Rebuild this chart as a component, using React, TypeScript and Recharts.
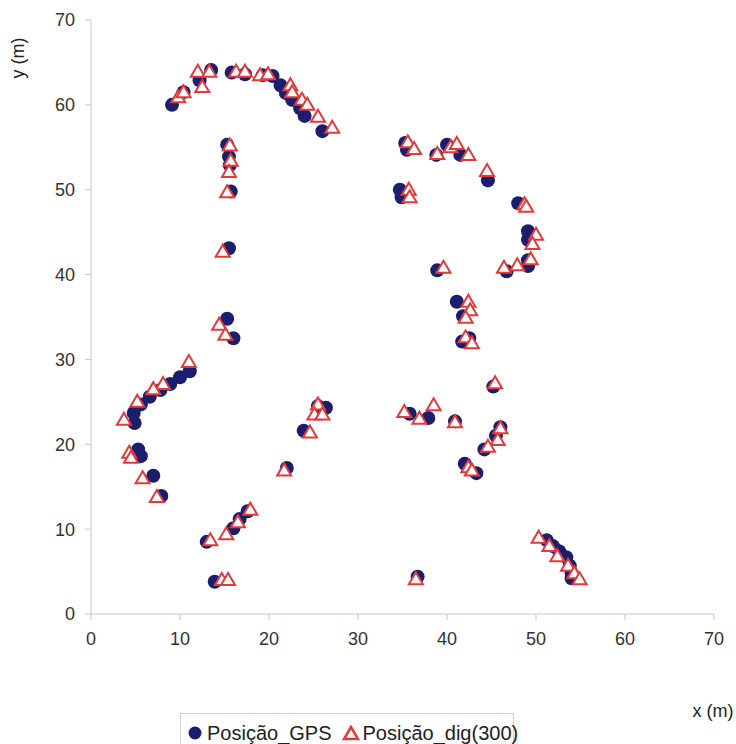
import { ScatterChart, Scatter, XAxis, YAxis, Label } from "recharts";

// GPS positions (x, y in metres)
const gpsPoints = [
  [9.1, 60.0], [10.4, 61.5], [12.2, 62.9], [13.5, 64.1], [15.8, 63.8], [17.3, 63.6],
  [19.3, 63.5], [20.4, 63.4], [21.3, 62.3], [21.9, 61.4], [22.6, 60.6], [23.5, 59.6],
  [24.0, 58.7], [26.0, 56.9],
  [15.3, 55.3], [15.5, 53.9], [15.6, 52.9], [15.7, 49.8], [15.5, 43.1], [15.3, 34.8], [16.0, 32.5],
  [11.1, 28.6], [10.0, 27.9], [8.9, 27.1], [7.8, 26.4], [6.6, 25.6], [5.6, 24.7],
  [4.8, 23.7], [4.9, 22.5], [5.3, 19.4], [5.6, 18.6], [7.0, 16.3], [7.9, 13.9],
  [13.0, 8.5], [16.0, 10.1], [16.7, 11.2], [17.6, 12.1], [13.9, 3.8], [36.7, 4.4],
  [25.5, 24.5], [26.4, 24.3], [23.9, 21.6], [22.0, 17.2],
  [35.3, 55.5], [35.5, 54.7], [38.8, 54.1], [40.0, 55.3], [41.5, 54.1], [44.6, 51.1],
  [34.7, 50.0], [34.9, 49.1], [48.0, 48.4], [49.1, 45.1], [49.1, 44.1], [49.1, 41.7],
  [49.1, 41.0], [38.9, 40.5], [46.7, 40.4],
  [41.1, 36.8], [41.8, 35.1], [41.7, 32.1], [42.5, 32.5], [45.2, 26.8], [35.8, 23.6],
  [37.9, 23.1], [40.9, 22.7], [46.0, 22.0], [45.5, 21.0], [44.2, 19.4], [42.0, 17.7], [43.3, 16.6],
  [51.2, 8.7], [51.9, 8.0], [52.6, 7.4], [53.4, 6.7], [53.8, 5.7], [54.0, 4.8], [54.0, 4.2],
];

// digitised positions (300)
const digPoints = [
  [9.8, 60.9], [10.4, 61.5], [12.0, 63.9], [12.5, 62.1], [13.3, 63.9], [16.3, 63.9],
  [17.3, 63.9], [19.0, 63.5], [19.9, 63.6], [22.4, 62.3], [22.6, 61.5], [23.7, 60.6],
  [24.3, 60.0], [25.5, 58.6], [27.1, 57.3],
  [15.6, 55.2], [15.7, 53.4], [15.5, 52.1], [15.3, 49.7], [14.8, 42.7], [14.4, 34.1], [15.1, 32.9],
  [11.0, 29.7], [8.1, 27.1], [7.0, 26.5], [5.2, 25.0], [3.7, 22.9], [4.3, 19.0],
  [4.5, 18.4], [5.8, 16.0], [7.4, 13.8],
  [13.4, 8.7], [15.2, 9.4], [16.5, 10.8], [17.9, 12.3], [14.7, 4.0], [15.4, 4.0], [36.5, 4.1],
  [25.5, 24.7], [25.1, 23.5], [26.0, 23.5], [24.6, 21.4], [21.7, 16.9],
  [35.6, 55.6], [36.3, 54.8], [38.9, 54.2], [40.4, 55.0], [41.1, 55.4], [42.4, 54.1],
  [44.5, 52.2], [35.7, 50.0], [35.8, 49.1], [48.7, 48.3], [48.9, 48.0], [50.0, 44.7],
  [49.6, 43.6], [49.4, 41.8], [47.9, 41.1], [46.4, 40.8], [39.6, 40.8],
  [42.4, 36.8], [42.6, 35.8], [42.1, 34.9], [42.1, 32.6], [42.8, 31.9], [45.4, 27.2],
  [35.2, 23.8], [36.9, 23.0], [38.5, 24.6], [40.9, 22.6], [46.0, 21.9], [45.7, 20.5],
  [44.6, 19.7], [42.4, 17.3], [42.8, 16.9],
  [50.3, 9.0], [51.5, 8.0], [52.4, 6.8], [53.6, 5.7], [54.3, 4.8], [54.9, 4.1],
];

const ticks = [0, 10, 20, 30, 40, 50, 60, 70];

const gpsData = gpsPoints.map(([x, y]) => ({ x, y }));
const digData = digPoints.map(([x, y]) => ({ x, y }));

const NAVY = "#1a1e6c";
const RED = "#e23a3a";
const AXIS = "#c4c4da";
const FONT = "'Liberation Sans', Arial, sans-serif";

const Dot = (p: any) => <circle cx={p.cx} cy={p.cy} r={7} fill={NAVY} />;

const Tri = (p: any) => (
  <polygon
    points={`${p.cx},${p.cy - 7} ${p.cx - 7},${p.cy + 5} ${p.cx + 7},${p.cy + 5}`}
    fill="#fff"
    stroke={RED}
    strokeWidth={2}
  />
);

export default function App() {
  return (
    <div style={{ position: "absolute", left: 0, top: 0, width: 736, height: 744, background: "#fff", fontFamily: FONT }}>
      <ScatterChart width={736} height={744} margin={{ top: 20, right: 22, bottom: 100, left: 0 }}>
        <XAxis
          type="number"
          dataKey="x"
          domain={[0, 70]}
          ticks={ticks}
          interval={0}
          height={30}
          stroke={AXIS}
          tickSize={6}
          tickMargin={12}
          tick={{ fill: "#333", fontSize: 18, fontFamily: FONT }}
        >
          <Label
            content={() => (
              <text x={713} y={717} textAnchor="middle" fontSize={18} fill="#222" fontFamily={FONT}>
                x (m)
              </text>
            )}
          />
        </XAxis>
        <YAxis
          type="number"
          dataKey="y"
          domain={[0, 70]}
          ticks={ticks}
          interval={0}
          width={91}
          stroke={AXIS}
          tickSize={6}
          tickMargin={10}
          tick={{ fill: "#333", fontSize: 18, fontFamily: FONT }}
        >
          <Label
            content={() => (
              <text
                x={24}
                y={58}
                transform="rotate(-90 24 58)"
                textAnchor="middle"
                fontSize={18}
                fill="#222"
                fontFamily={FONT}
              >
                y (m)
              </text>
            )}
          />
        </YAxis>
        <Scatter name="Posição_GPS" data={gpsData} shape={Dot} isAnimationActive={false} />
        <Scatter name="Posição_dig(300)" data={digData} shape={Tri} isAnimationActive={false} />
      </ScatterChart>
      <div
        style={{
          position: "absolute",
          left: 180,
          top: 713,
          width: 334,
          height: 40,
          border: "1px solid #d0d0dc",
          display: "flex",
          alignItems: "center",
          fontSize: 20,
          color: "#222",
          boxSizing: "border-box",
          paddingLeft: 6,
          whiteSpace: "nowrap",
        }}
      >
        <svg width={16} height={16} style={{ marginRight: 4, flexShrink: 0 }}>
          <circle cx={8} cy={8} r={6.5} fill={NAVY} />
        </svg>
        <span>Posição_GPS</span>
        <svg width={18} height={16} style={{ marginLeft: 10, marginRight: 3, flexShrink: 0 }}>
          <polygon points="9,2 2,14 16,14" fill="#fff" stroke={RED} strokeWidth={2.5} />
        </svg>
        <span>Posição_dig(300)</span>
      </div>
    </div>
  );
}
